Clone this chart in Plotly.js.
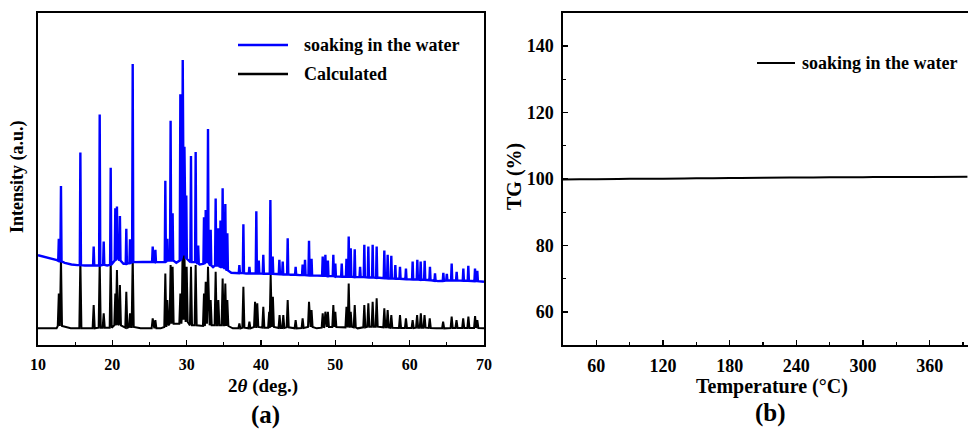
<!DOCTYPE html>
<html>
<head>
<meta charset="utf-8">
<script src="https://cdn.plot.ly/plotly-3.0.1.min.js"></script>
<style>html,body{margin:0;padding:0;background:#fff;}#chart{width:968px;height:430px;}</style>
</head>
<body>
<div id="chart"></div>
<script>
// ---------- Panel (a): XRD patterns (arbitrary intensity units) ----------
// Measured pattern, "soaking in the water": baseline readings
const blueBaseX = [10, 11, 12, 12.55, 13.6, 14.5, 15.3, 16.3, 17.1, 19.3, 21.5, 23.3, 24.6, 26.4, 28.6, 31.75, 33.55, 36.0, 38.0, 40.8, 42.0, 44.0, 45.2, 47.4, 49.3, 50.45, 53.0, 55.9, 58.35, 59.9, 62.4, 63.8, 65.3, 66.8, 68.4, 70];
const blueBaseY = [27.1, 26.6, 26.0, 25.6, 24.8, 24.3, 24.1, 24.0, 24.0, 24.0, 24.5, 25.0, 25.1, 25.0, 24.8, 24.3, 23.5, 21.8, 21.6, 21.5, 21.4, 21.2, 21.1, 21.0, 20.8, 20.6, 20.5, 20.3, 20.0, 19.8, 19.7, 19.3, 19.5, 19.5, 19.4, 19.1];
// Measured pattern: peak positions (2theta), peak tops, local base under each peak
const bluePeakPos  = [12.80, 13.09, 15.70, 17.49, 18.30, 18.84, 19.78, 20.40, 20.62, 21.02, 21.88, 22.38, 22.74, 25.43, 25.79, 27.13, 27.40, 27.84, 28.11, 29.15, 29.47, 29.70, 29.95, 30.58, 31.21, 31.55, 32.33, 32.56, 32.87, 33.23, 33.90, 34.26, 34.55, 34.84, 35.20, 35.47, 37.09, 37.63, 38.44, 39.37, 39.70, 40.31, 41.26, 41.57, 42.47, 42.92, 43.59, 44.66, 45.60, 45.92, 46.46, 46.80, 48.30, 48.66, 49.00, 49.73, 50.00, 50.86, 51.50, 51.80, 52.07, 52.61, 53.33, 53.90, 54.44, 55.02, 55.56, 56.59, 57.04, 57.53, 58.07, 58.70, 59.50, 60.40, 61.03, 61.48, 62.02, 62.73, 63.41, 64.53, 65.00, 65.65, 66.32, 67.22, 67.89, 68.79, 69.10];
const bluePeakTop  = [32.0, 47.9, 58.0, 29.7, 69.4, 31.2, 53.4, 41.2, 41.7, 38.9, 35.0, 31.9, 84.6, 29.7, 28.7, 49.5, 32.0, 67.5, 39.7, 75.5, 85.8, 59.7, 45.0, 56.9, 58.1, 30.0, 38.5, 40.7, 65.0, 34.7, 44.1, 35.2, 37.5, 47.2, 42.5, 33.7, 24.1, 36.4, 23.6, 40.3, 25.5, 27.2, 43.7, 26.7, 25.7, 25.2, 32.2, 23.6, 24.3, 25.7, 31.4, 26.0, 26.7, 27.2, 25.5, 27.2, 24.6, 24.6, 26.0, 32.7, 29.2, 28.9, 23.6, 30.2, 29.7, 30.2, 29.7, 28.5, 27.2, 26.9, 24.1, 23.6, 23.1, 25.2, 25.7, 25.2, 25.4, 23.6, 21.6, 21.8, 21.5, 24.6, 22.1, 23.1, 23.9, 23.1, 22.4];
const bluePeakBase = [25.4, 25.2, 24.1, 24.0, 24.0, 24.2, 24.2, 25.5, 26.5, 25.5, 24.5, 24.8, 25.0, 25.1, 25.0, 25.0, 25.5, 25.5, 25.5, 25.5, 27.0, 27.0, 26.0, 25.0, 25.0, 24.5, 24.5, 25.0, 25.0, 24.0, 24.0, 24.0, 23.5, 23.5, 23.0, 22.5, 21.7, 21.7, 21.6, 21.6, 21.6, 21.5, 21.5, 21.5, 21.4, 21.3, 21.3, 21.2, 21.1, 21.1, 21.0, 21.0, 20.9, 20.9, 20.8, 20.8, 20.7, 20.6, 20.6, 20.6, 20.6, 20.5, 20.5, 20.5, 20.4, 20.4, 20.3, 20.2, 20.1, 20.1, 20.0, 20.0, 19.9, 19.8, 19.8, 19.7, 19.7, 19.6, 19.4, 19.4, 19.5, 19.5, 19.5, 19.4, 19.4, 19.3, 19.3];

// Calculated pattern
const blackBaseX = [10, 12.5, 14.4, 16.6, 23.8, 26.5, 36.2, 44.2, 47.5, 53.0, 60.0, 63.6, 70];
const blackBaseY = [5.1, 5.1, 5.1, 5.1, 5.1, 5.1, 5.1, 5.1, 5.1, 5.1, 5.1, 5.1, 5.1];
const blackPeakPos = [12.80, 13.09, 15.70, 17.49, 18.30, 18.84, 19.78, 20.40, 20.62, 21.02, 21.88, 22.38, 22.74, 25.43, 25.79, 27.13, 27.40, 27.84, 28.11, 29.15, 29.47, 29.70, 30.00, 30.58, 31.21, 32.33, 32.56, 32.87, 33.23, 33.90, 34.26, 34.84, 35.20, 35.47, 37.09, 37.63, 38.44, 39.20, 39.50, 40.31, 41.10, 41.30, 41.60, 42.50, 43.00, 43.59, 44.66, 45.60, 46.46, 46.80, 48.30, 48.66, 49.00, 49.73, 50.00, 51.50, 51.80, 52.07, 52.61, 53.90, 54.44, 55.02, 55.56, 56.59, 57.04, 57.53, 58.70, 59.50, 60.40, 61.00, 61.50, 62.00, 62.70, 64.50, 65.65, 66.30, 67.20, 67.90, 68.80, 69.10];
const blackPeakTop = [15.6, 26.2, 25.7, 12.1, 25.2, 9.6, 25.7, 15.6, 22.6, 18.1, 16.1, 9.6, 26.7, 8.1, 7.6, 21.6, 13.6, 24.1, 23.6, 15.6, 31.7, 27.7, 23.6, 23.6, 24.1, 15.6, 19.1, 23.6, 13.6, 22.1, 13.6, 20.1, 18.6, 13.6, 6.6, 17.6, 7.1, 13.1, 12.6, 11.6, 10.1, 21.1, 14.6, 9.1, 9.1, 13.6, 7.6, 8.1, 13.1, 10.6, 9.6, 10.1, 10.1, 12.1, 10.1, 11.6, 18.6, 10.1, 12.1, 12.1, 12.6, 13.1, 14.1, 11.1, 10.6, 9.1, 9.1, 8.1, 7.6, 9.1, 9.6, 9.1, 8.1, 7.1, 8.6, 7.6, 8.1, 8.6, 8.8, 7.6];
const blackPeakBase = [5.8, 5.8, 5.1, 5.1, 5.3, 5.3, 5.3, 6.0, 6.5, 6.0, 5.3, 5.5, 5.5, 5.1, 5.1, 5.5, 6.0, 6.5, 6.5, 6.5, 8.0, 8.0, 7.0, 6.0, 6.0, 5.8, 6.5, 6.5, 6.0, 6.0, 6.0, 6.0, 6.0, 5.8, 5.1, 5.3, 5.1, 5.5, 5.5, 5.3, 5.3, 5.5, 5.5, 5.2, 5.2, 5.4, 5.1, 5.2, 5.5, 5.5, 5.3, 5.5, 5.5, 5.5, 5.5, 5.4, 5.6, 5.6, 5.4, 5.4, 5.6, 5.6, 5.6, 5.4, 5.4, 5.3, 5.2, 5.2, 5.2, 5.3, 5.3, 5.3, 5.2, 5.1, 5.2, 5.2, 5.2, 5.2, 5.2, 5.2];

// ---------- Panel (b): TG curve ----------
const tgT = [30, 45, 60, 90, 120, 150, 180, 210, 240, 270, 300, 330, 360, 394];
const tgW = [99.85, 99.9, 99.95, 100.05, 100.1, 100.2, 100.3, 100.4, 100.45, 100.5, 100.55, 100.6, 100.6, 100.65];

const xTicksA = [10, 20, 30, 40, 50, 60, 70];
const xTicksB = [60, 120, 180, 240, 300, 360];
const yTicksB = [60, 80, 100, 120, 140];

// Build a polyline from baseline readings + peak readings (each peak: base -> top -> base)
function buildPattern(bx, by, pp, pt, pb, hw) {
  const ev = [];
  for (let i = 0; i < bx.length; i++) ev.push({c: bx[i], pts: [[bx[i], by[i]]]});
  for (let i = 0; i < pp.length; i++) ev.push({c: pp[i], pts: [[pp[i] - hw, pb[i]], [pp[i], pt[i]], [pp[i] + hw, pb[i]]]});
  ev.sort((a, b) => a.c - b.c);
  const x = [], y = [];
  ev.forEach(e => e.pts.forEach(p => { x.push(p[0]); y.push(p[1]); }));
  return {x, y};
}
const blue = buildPattern(blueBaseX, blueBaseY, bluePeakPos, bluePeakTop, bluePeakBase, 0.08);
const black = buildPattern(blackBaseX, blackBaseY, blackPeakPos, blackPeakTop, blackPeakBase, 0.14);

const FONT = 'Liberation Serif, Times New Roman, serif';

const traces = [
  {x: black.x, y: black.y, type: 'scatter', mode: 'lines', name: 'Calculated',
   line: {color: '#000000', width: 2}, xaxis: 'x', yaxis: 'y', showlegend: false},
  {x: blue.x, y: blue.y, type: 'scatter', mode: 'lines', name: 'soaking in the water',
   line: {color: '#0000ff', width: 2.4}, xaxis: 'x', yaxis: 'y', showlegend: false},
  {x: tgT, y: tgW, type: 'scatter', mode: 'lines', name: 'soaking in the water',
   line: {color: '#000000', width: 2, shape: 'spline'}, xaxis: 'x2', yaxis: 'y2', showlegend: false}
];

const H = 430, W = 968;
const px = v => v / W, py = v => 1 - v / H;

const layout = {
  width: W, height: H,
  margin: {l: 0, r: 0, t: 0, b: 0},
  paper_bgcolor: '#ffffff', plot_bgcolor: '#ffffff',
  font: {family: FONT, color: '#000', size: 16, weight: 'bold'},
  xaxis: {
    domain: [px(38), px(484)], anchor: 'y', range: [10, 70],
    tickvals: xTicksA, ticktext: xTicksA.map(String),
    ticks: 'inside', ticklen: 5, tickwidth: 1.5, tickcolor: '#000',
    minor: {dtick: 5, tick0: 10, ticks: 'inside', ticklen: 3, tickwidth: 1.2, tickcolor: '#000'},
    showline: true, mirror: true, linecolor: '#000', linewidth: 1.6,
    showgrid: false, zeroline: false,
    tickfont: {family: FONT, size: 16, weight: 'bold', color: '#000'},
    ticklabelstandoff: 4
  },
  yaxis: {
    domain: [py(345.3), py(12.7)], anchor: 'x', range: [0, 100],
    showticklabels: false, ticks: '',
    showline: true, mirror: true, linecolor: '#000', linewidth: 1.6,
    showgrid: false, zeroline: false
  },
  xaxis2: {
    domain: [px(563), 1], anchor: 'y2', range: [30, 394.5],
    tickvals: xTicksB, ticktext: xTicksB.map(String),
    ticks: 'inside', ticklen: 5, tickwidth: 1.5, tickcolor: '#000',
    minor: {dtick: 30, tick0: 0, ticks: 'inside', ticklen: 3, tickwidth: 1.2, tickcolor: '#000'},
    showline: true, mirror: true, linecolor: '#000', linewidth: 1.6,
    showgrid: false, zeroline: false,
    tickfont: {family: FONT, size: 18, weight: 'bold', color: '#000'},
    ticklabelstandoff: 3
  },
  yaxis2: {
    domain: [py(345.3), py(12.7)], anchor: 'x2', range: [50, 150],
    tickvals: yTicksB, ticktext: yTicksB.map(String),
    ticks: 'inside', ticklen: 5, tickwidth: 1.5, tickcolor: '#000',
    minor: {dtick: 10, tick0: 50, ticks: 'inside', ticklen: 3, tickwidth: 1.2, tickcolor: '#000'},
    showline: true, mirror: false, linecolor: '#000', linewidth: 1.6,
    showgrid: false, zeroline: false,
    tickfont: {family: FONT, size: 18, weight: 'bold', color: '#000'},
    ticklabelstandoff: 4
  },
  shapes: [
    {type: 'line', xref: 'paper', yref: 'paper', x0: px(238), x1: px(288), y0: py(45), y1: py(45), line: {color: '#0000ff', width: 2.5}},
    {type: 'line', xref: 'paper', yref: 'paper', x0: px(238), x1: px(288), y0: py(74), y1: py(74), line: {color: '#000000', width: 2.5}},
    {type: 'line', xref: 'paper', yref: 'paper', x0: px(757), x1: px(795), y0: py(63), y1: py(63), line: {color: '#000000', width: 1.8}}
  ],
  annotations: [
    {xref: 'paper', yref: 'paper', x: px(302), y: py(45), xanchor: 'left', yanchor: 'middle', showarrow: false,
     text: 'soaking in the water', font: {family: FONT, size: 18, weight: 'bold'}},
    {xref: 'paper', yref: 'paper', x: px(302), y: py(74), xanchor: 'left', yanchor: 'middle', showarrow: false,
     text: 'Calculated', font: {family: FONT, size: 18, weight: 'bold'}},
    {xref: 'paper', yref: 'paper', x: px(800), y: py(63), xanchor: 'left', yanchor: 'middle', showarrow: false,
     text: 'soaking in the water', font: {family: FONT, size: 18, weight: 'bold'}},
    {xref: 'paper', yref: 'paper', x: px(263), y: py(386), xanchor: 'center', yanchor: 'middle', showarrow: false,
     text: '2<i>θ</i> (deg.)', font: {family: FONT, size: 19, weight: 'bold'}},
    {xref: 'paper', yref: 'paper', x: px(18), y: py(177), xanchor: 'center', yanchor: 'middle', showarrow: false, textangle: -90,
     text: 'Intensity (a.u.)', font: {family: FONT, size: 18, weight: 'bold'}},
    {xref: 'paper', yref: 'paper', x: px(265), y: py(415), xanchor: 'center', yanchor: 'middle', showarrow: false,
     text: '(a)', font: {family: FONT, size: 25, weight: 'bold'}},
    {xref: 'paper', yref: 'paper', x: px(772), y: py(386), xanchor: 'center', yanchor: 'middle', showarrow: false,
     text: 'Temperature (°C)', font: {family: FONT, size: 20, weight: 'bold'}},
    {xref: 'paper', yref: 'paper', x: px(515), y: py(177), xanchor: 'center', yanchor: 'middle', showarrow: false, textangle: -90,
     text: 'TG (%)', font: {family: FONT, size: 20, weight: 'bold'}},
    {xref: 'paper', yref: 'paper', x: px(770), y: py(413), xanchor: 'center', yanchor: 'middle', showarrow: false,
     text: '(b)', font: {family: FONT, size: 25, weight: 'bold'}}
  ]
};

Plotly.newPlot('chart', traces, layout, {displayModeBar: false, staticPlot: true});
</script>
</body>
</html>
